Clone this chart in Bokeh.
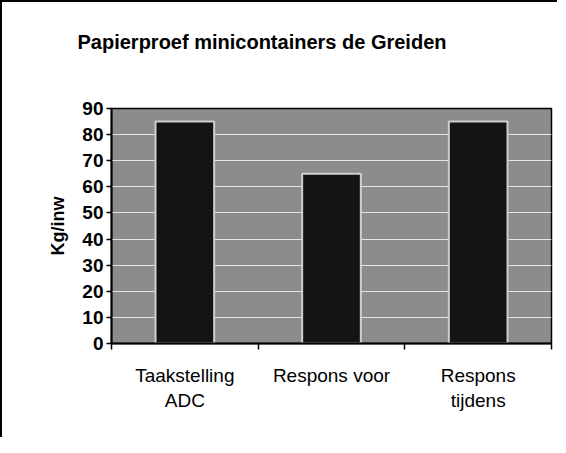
from bokeh.plotting import figure
from bokeh.models import Range1d, LinearAxis, FixedTicker, Title, ColumnDataSource
from bokeh.embed import file_html
from bokeh.resources import INLINE

# --- data ---
categories = ["Taakstelling\nADC", "Respons voor", "Respons\ntijdens"]
values = [85, 65, 85]
y_ticks = [0, 10, 20, 30, 40, 50, 60, 70, 80, 90]
title_text = "Papierproef minicontainers de Greiden"
y_label = "Kg/inw"

FONT = "Liberation Sans"

n = len(categories)
centers = [i + 0.5 for i in range(n)]
bounds = list(range(n + 1))
src = ColumnDataSource(dict(x=centers, val=values, cat=categories))

p = figure(x_range=Range1d(0, n),
           y_range=Range1d(0, 90),
           frame_width=440, frame_height=235,
           min_border_left=109, min_border_right=6,
           min_border_top=106, min_border_bottom=94,
           x_axis_location=None,
           output_backend="svg", toolbar_location=None)
p.styles = {"border-top": "2px solid black", "border-left": "2px solid black"}

p.background_fill_color = "#8c8c8c"
p.border_fill_color = "white"
p.outline_line_color = "black"
p.outline_line_width = 1.5

p.vbar(x="x", top="val", width=0.4, source=src,
       fill_color="#141414", line_color="#cfcfcf", line_width=2)

# grid
p.xgrid.grid_line_color = None
p.ygrid.grid_line_color = "#e6e6e6"
p.ygrid.grid_line_width = 1
p.ygrid.ticker = FixedTicker(ticks=y_ticks)

# y axis
ya = p.yaxis[0]
ya.ticker = FixedTicker(ticks=y_ticks)
ya.minor_tick_line_color = None
ya.major_tick_in = 0
ya.major_tick_out = 5
ya.major_tick_line_width = 1.5
ya.axis_line_width = 2
ya.major_label_standoff = 3
ya.major_label_text_font = FONT
ya.major_label_text_font_style = "bold"
ya.major_label_text_font_size = "19px"
ya.major_label_text_color = "black"
ya.axis_label = y_label
ya.axis_label_text_font = FONT
ya.axis_label_text_font_style = "bold"
ya.axis_label_text_font_size = "18px"
ya.axis_label_text_color = "black"
ya.axis_label_standoff = 11

# x axis: boundary ticks
tick_axis = LinearAxis(ticker=FixedTicker(ticks=bounds),
                       major_label_text_alpha=0, major_label_text_font_size="1px",
                       major_label_standoff=0,
                       major_tick_in=0, major_tick_out=6, major_tick_line_width=1.5,
                       minor_tick_line_color=None, axis_line_width=2)
p.add_layout(tick_axis, "below")

# x axis: category labels
cat_axis = LinearAxis(ticker=FixedTicker(ticks=centers),
                      major_label_overrides={c: lab for c, lab in zip(centers, categories)},
                      axis_line_color=None, major_tick_line_color=None,
                      minor_tick_line_color=None,
                      major_label_standoff=9,
                      major_label_text_font=FONT,
                      major_label_text_font_size="19px",
                      major_label_text_color="black")
p.add_layout(cat_axis, "below")

# invisible spacer above the frame, then the title further out
spacer = LinearAxis(ticker=FixedTicker(ticks=[1]),
                    axis_line_color=None, major_tick_line_color=None,
                    minor_tick_line_color=None,
                    major_tick_in=0, major_tick_out=56,
                    major_label_standoff=0,
                    major_label_text_alpha=0, major_label_text_font_size="1px")
p.add_layout(spacer, "above")

t = Title(text=title_text, align="left", offset=-34, standoff=0,
          text_font=FONT, text_font_style="bold", text_font_size="20px",
          text_color="black")
p.add_layout(t, "above")

open("out.html", "w").write(file_html(p, INLINE))
